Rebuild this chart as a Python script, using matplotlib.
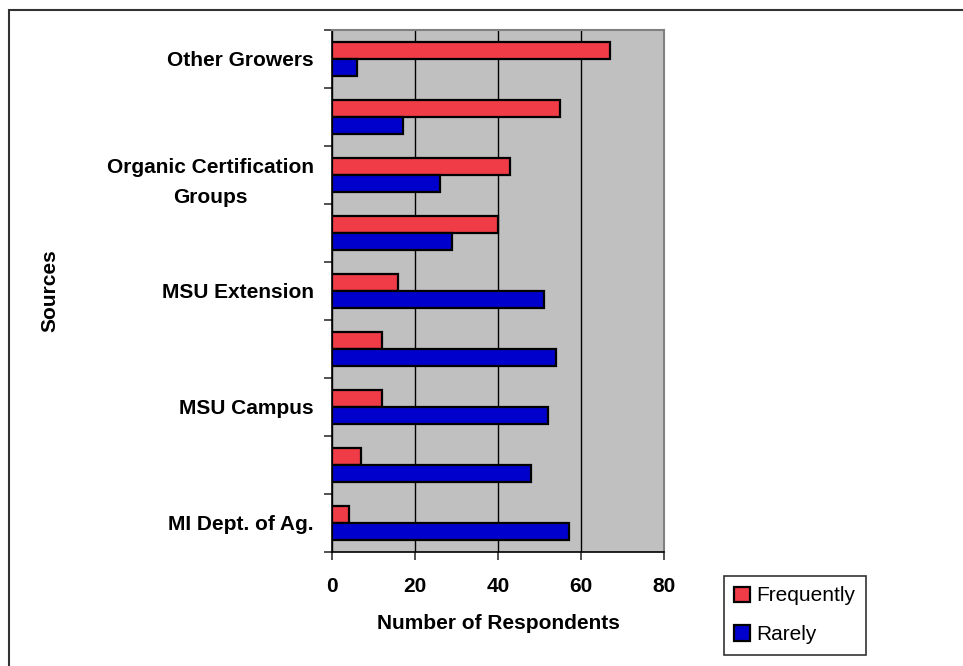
import matplotlib.pyplot as plt
import matplotlib.patches as patches
import numpy as np

plt.rcParams["font.family"] = "Liberation Sans"

# top to bottom, only every other source is labelled on the chart
sources = ["Other Growers", "", "Organic Certification\nGroups", "", "MSU Extension",
           "", "MSU Campus", "", "MI Dept. of Ag."]
frequently = [67, 55, 43, 40, 16, 12, 12, 7, 4]
rarely = [6, 17, 26, 29, 51, 54, 52, 48, 57]
x_ticks = [0, 20, 40, 60, 80]

W, H = 963, 666
fs = 15
fig = plt.figure(figsize=(W / 100, H / 100), dpi=100)
ax = fig.add_axes([332 / W, 1 - 552 / H, (664 - 332) / W, (552 - 30) / H])
ax.set_facecolor("#C0C0C0")

y = np.arange(len(sources))
h = 0.29
ax.barh(y - h / 2, frequently, height=h, color="#F03C46", edgecolor="black",
        linewidth=1.6, label="Frequently", zorder=3)
ax.barh(y + h / 2, rarely, height=h, color="#0000CC", edgecolor="black",
        linewidth=1.6, label="Rarely", zorder=3)

ax.set_xlim(0, 80)
ax.set_ylim(len(sources) - 0.5, -0.5)
ax.set_xticks(x_ticks)
ax.set_xticklabels([str(v) for v in x_ticks], fontsize=fs, fontweight="bold")
ax.grid(True, axis="x", color="black", linewidth=1, zorder=1)

# ticks at category boundaries, labels at centres
ax.set_yticks(np.arange(len(sources) + 1) - 0.5)
ax.set_yticklabels([])
ax.set_yticks(y, minor=True)
ax.set_yticklabels(sources, minor=True, fontsize=fs, fontweight="bold",
                   multialignment="center", linespacing=1.75)
ax.tick_params(axis="y", which="minor", length=0, pad=13)
ax.tick_params(axis="y", which="major", length=6, width=1.2, color="#333333")
ax.tick_params(axis="x", length=6, width=1.2, pad=12, color="#333333")

for s in ["top", "right"]:
    ax.spines[s].set_color("#808080")
    ax.spines[s].set_linewidth(1.5)
for s in ["left", "bottom"]:
    ax.spines[s].set_color("black")
    ax.spines[s].set_linewidth(1.2)

ax.set_xlabel("Number of Respondents", fontsize=fs, fontweight="bold", labelpad=13)
fig.text(50 / W, 1 - 291 / H, "Sources", rotation=90, fontsize=fs, fontweight="bold",
         ha="center", va="center")

leg = fig.legend(loc="upper left", bbox_to_anchor=(724 / W, 1 - 576 / H),
                 fontsize=fs, frameon=True, fancybox=False, edgecolor="black",
                 handlelength=0.75, handleheight=0.75, handletextpad=0.3,
                 labelspacing=0.95, borderpad=0.5, borderaxespad=0)
leg.get_frame().set_linewidth(1.2)

# outer chart border (runs off the right and bottom of the image)
fig.patches.append(patches.Rectangle((9 / W, -0.1), 1.2, (H - 10) / H + 0.1,
                                     transform=fig.transFigure, fill=False,
                                     edgecolor="#333333", linewidth=1.5))

fig.savefig("out.png", dpi=100)
